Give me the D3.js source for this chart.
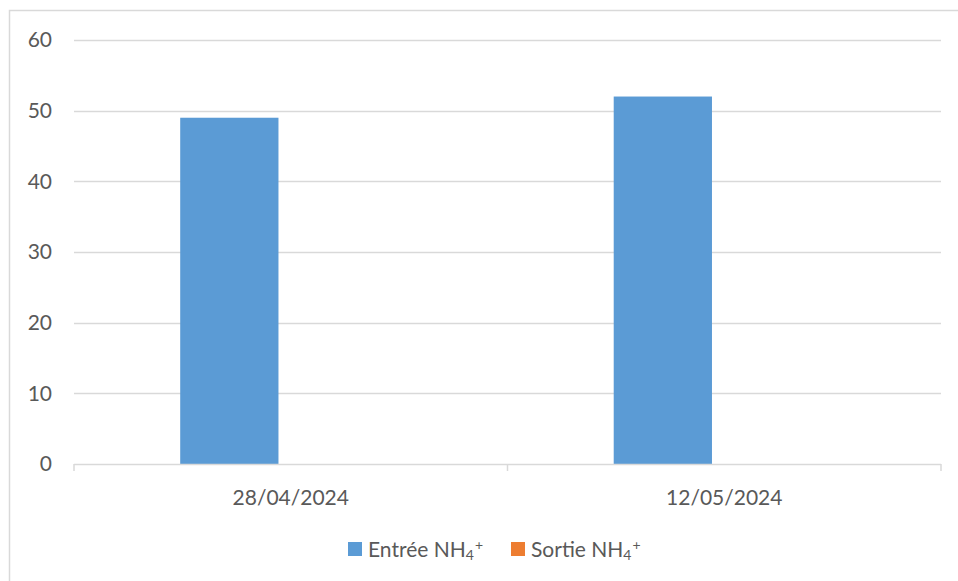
<!DOCTYPE html>
<html>
<head>
<meta charset="utf-8">
<script src="https://cdn.jsdelivr.net/npm/d3@7"></script>
<style>
  body { margin: 0; background: #fff; }
  text { font-family: Lato, "Open Sans", sans-serif; fill: #595959; }
</style>
</head>
<body>
<div id="chart"></div>
<script>
// data
const dates = ["28/04/2024", "12/05/2024"];
const series = ["Entrée", "Sortie"];
const entree = [49, 52];
const sortie = [0, 0];
const colors = ["#5b9bd5", "#ed7d31"];
const yTicks = [0, 10, 20, 30, 40, 50, 60];

const width = 958, height = 581;
const plotLeft = 74, plotRight = 941, plotTop = 40, plotBottom = 464;

const svg = d3.select("#chart").append("svg")
  .attr("width", width)
  .attr("height", height);

// chart area border (runs off the right and bottom edges)
svg.append("rect")
  .attr("x", 9.5).attr("y", 10.5)
  .attr("width", 960).attr("height", 580)
  .attr("fill", "none")
  .attr("stroke", "#d9d9d9")
  .attr("stroke-width", 1.5);

const y = d3.scaleLinear().domain([0, 60]).range([plotBottom, plotTop]);
const x0 = d3.scaleBand().domain(dates).range([plotLeft, plotRight]);
const bw = x0.bandwidth();
const x1 = d3.scaleBand().domain(series)
  .range([bw * 0.245, bw * 0.755])
  .paddingInner(0.2);

// gridlines
svg.append("g").selectAll("line")
  .data(yTicks.filter(d => d > 0))
  .enter().append("line")
  .attr("x1", plotLeft).attr("x2", plotRight)
  .attr("y1", d => Math.round(y(d)) + 0.5)
  .attr("y2", d => Math.round(y(d)) + 0.5)
  .attr("stroke", "#d9d9d9")
  .attr("stroke-width", 1.5);

// y labels
svg.append("g").selectAll("text")
  .data(yTicks)
  .enter().append("text")
  .attr("x", 52)
  .attr("y", d => y(d))
  .attr("dy", "0.35em")
  .attr("text-anchor", "end")
  .style("font-size", "21px")
  .text(d => d);

// bars
const rows = dates.map((d, i) => ({ date: d, values: [entree[i], sortie[i]] }));
const groups = svg.append("g").selectAll("g")
  .data(rows)
  .enter().append("g")
  .attr("transform", d => "translate(" + x0(d.date) + ",0)");

groups.selectAll("rect")
  .data(d => d.values.map((v, i) => ({ key: series[i], value: v, i })))
  .enter().append("rect")
  .attr("x", d => x1(d.key))
  .attr("width", x1.bandwidth())
  .attr("y", d => y(d.value))
  .attr("height", d => plotBottom - y(d.value))
  .attr("fill", d => colors[d.i]);

// x axis line + ticks
const axis = svg.append("g").attr("stroke", "#d9d9d9").attr("stroke-width", 1.5);
axis.append("line")
  .attr("x1", plotLeft).attr("x2", plotRight)
  .attr("y1", plotBottom + 0.5).attr("y2", plotBottom + 0.5);
const tickPos = dates.map(d => x0(d)).concat([plotRight]);
axis.selectAll(".tk")
  .data(tickPos)
  .enter().append("line")
  .attr("class", "tk")
  .attr("x1", d => d).attr("x2", d => d)
  .attr("y1", plotBottom).attr("y2", plotBottom + 7);

// x labels
svg.append("g").selectAll("text")
  .data(dates)
  .enter().append("text")
  .attr("x", d => x0(d) + bw / 2)
  .attr("y", 505)
  .attr("text-anchor", "middle")
  .style("font-size", "21px")
  .text(d => d);

// legend
const legendX = [348, 511];
const leg = svg.append("g").selectAll("g")
  .data(series)
  .enter().append("g")
  .attr("transform", (d, i) => "translate(" + legendX[i] + ",542)");
leg.append("rect")
  .attr("width", 14).attr("height", 14)
  .attr("fill", (d, i) => colors[i]);
const lt = leg.append("text")
  .attr("x", 20).attr("y", 15)
  .style("font-size", "21px");
lt.append("tspan").text(d => d + " NH");
lt.append("tspan").attr("dy", 3).style("font-size", "14px").text("4");
lt.append("tspan").attr("dy", -10).attr("dx", 1).style("font-size", "14px").text("+");
</script>
</body>
</html>
